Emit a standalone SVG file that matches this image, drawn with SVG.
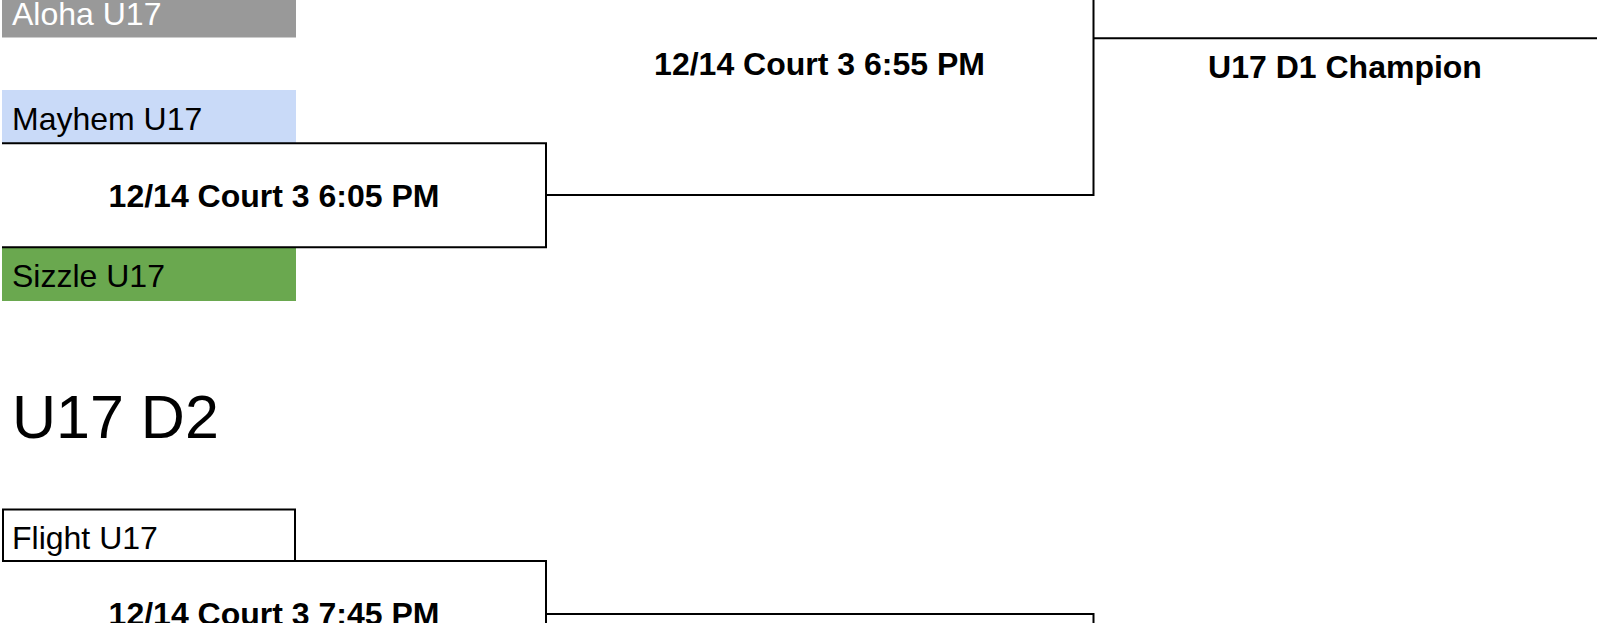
<svg xmlns="http://www.w3.org/2000/svg" width="1600" height="623" viewBox="0 0 1600 623">
<style>
.t{font-family:"Liberation Sans",Arial,sans-serif;font-size:32px;fill:#000}
.b{font-family:"Liberation Sans",Arial,sans-serif;font-size:32px;font-weight:bold;fill:#000;text-anchor:middle}
.ln{fill:none;stroke:#000;stroke-width:2}
</style>
<rect width="1600" height="623" fill="#fff"/>
<g id="aloha">
<rect x="2" y="-16" width="294" height="53.5" fill="#999999"/>
<text class="t" x="12" y="25" style="fill:#fff">Aloha U17</text>
</g>
<g id="mayhem">
<rect x="2" y="90" width="294" height="53" fill="#c9daf8"/>
<text class="t" x="12" y="129.5">Mayhem U17</text>
</g>
<g id="sizzle">
<rect x="2" y="247" width="294" height="54" fill="#6aa84f"/>
<text class="t" x="12" y="287">Sizzle U17</text>
</g>
<g id="connectors">
<path class="ln" d="M2 143.3 H546 V247.3 H2"/>
<path class="ln" d="M546 195 H1093.5 V-5"/>
<path class="ln" d="M1093.5 38.3 H1597"/>
<path class="ln" d="M295 561 H546 V640"/>
<path class="ln" d="M546 614 H1093.5 V640"/>
</g>
<g id="match-605"><text class="b" x="274" y="207">12/14 Court 3 6:05 PM</text></g>
<g id="match-655"><text class="b" x="819.5" y="75">12/14 Court 3 6:55 PM</text></g>
<g id="champion"><text class="b" x="1345" y="78">U17 D1 Champion</text></g>
<g id="heading-d2"><text class="t" x="12" y="438" style="font-size:61px">U17 D2</text></g>
<g id="flight">
<rect x="3" y="509.5" width="292" height="51.5" fill="#fff" stroke="#000" stroke-width="2"/>
<text class="t" x="12" y="549">Flight U17</text>
</g>
<g id="match-745"><text class="b" x="274" y="625">12/14 Court 3 7:45 PM</text></g>
</svg>
